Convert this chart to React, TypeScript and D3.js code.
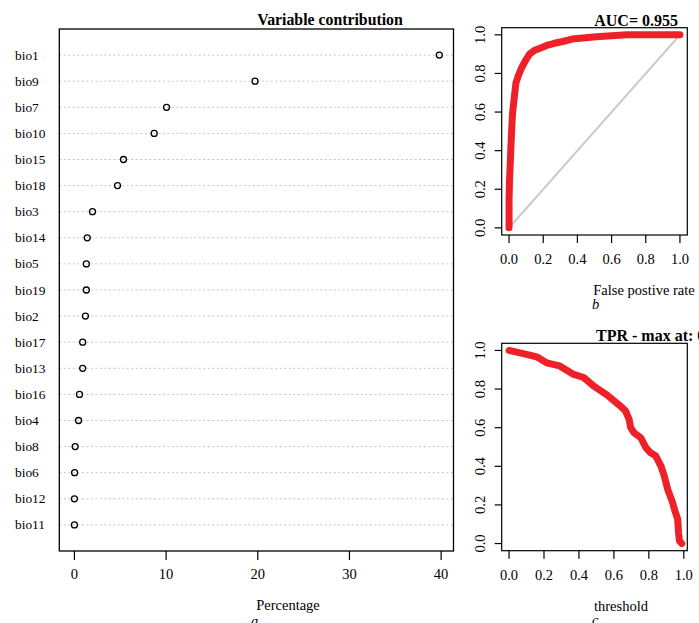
import React from "react"
import * as d3 from "d3"

// variable contribution (percent)
const vars = ["bio1", "bio9", "bio7", "bio10", "bio15", "bio18", "bio3", "bio14", "bio5", "bio19", "bio2", "bio17", "bio13", "bio16", "bio4", "bio8", "bio6", "bio12", "bio11"]
const contrib = [39.8, 19.7, 10.05, 8.7, 5.35, 4.7, 1.97, 1.4, 1.3, 1.3, 1.2, 0.9, 0.9, 0.55, 0.45, 0.08, 0.02, 0.0, 0.0]
const contribTicks = [0, 10, 20, 30, 40]

// ROC curve
const rocFpr = [0, 0, 0.003, 0.007, 0.01, 0.015, 0.02, 0.03, 0.04, 0.055, 0.074, 0.095, 0.12, 0.15, 0.18, 0.22, 0.26, 0.32, 0.38, 0.45, 0.51, 0.6, 0.69, 0.8, 0.9, 1.0]
const rocTpr = [0, 0.15, 0.25, 0.33, 0.4, 0.5, 0.59, 0.67, 0.75, 0.79, 0.83, 0.865, 0.9, 0.92, 0.93, 0.945, 0.955, 0.967, 0.98, 0.985, 0.99, 0.995, 1.0, 1.0, 1.0, 1.0]

// TPR by threshold
const thr = [0, 0.05, 0.1, 0.158, 0.215, 0.29, 0.37, 0.427, 0.485, 0.56, 0.64, 0.667, 0.687, 0.696, 0.715, 0.754, 0.783, 0.81, 0.84, 0.87, 0.888, 0.908, 0.936, 0.946, 0.965, 0.97, 0.975, 0.988]
const thrTpr = [1.0, 0.99, 0.98, 0.967, 0.936, 0.92, 0.876, 0.86, 0.815, 0.77, 0.71, 0.686, 0.643, 0.6, 0.574, 0.548, 0.497, 0.47, 0.453, 0.4, 0.35, 0.28, 0.212, 0.178, 0.126, 0.057, 0.014, 0]

const unitTicks = [0, 0.2, 0.4, 0.6, 0.8, 1.0]

const FONT = "'Liberation Serif', 'Times New Roman', serif"
const RED = "#ee2128"
const AX = 14.5

const SmallPanel = ({ top, bottom, xDomain, xs, ys, title, titleX, titleAnchor, xlab, xlabX, tag, tagX, diag }) => {
  const left = 501.7
  const right = 687.3
  const x = d3.scaleLinear().domain(xDomain).range([left, right])
  const y = d3.scaleLinear().domain([-0.037, 1.037]).range([bottom, top])
  const line = d3.line().x((d) => x(d[0])).y((d) => y(d[1]))
  const pts = xs.map((v, i) => [v, ys[i]])
  return (
    <g fontFamily={FONT}>
      {diag && <line x1={x(0)} y1={y(0)} x2={x(1)} y2={y(1)} stroke="#c8c8c8" strokeWidth={2} />}
      <path d={line(pts)} fill="none" stroke={RED} strokeWidth={7} strokeLinejoin="round" strokeLinecap="round" />
      <rect x={left} y={top} width={right - left} height={bottom - top} fill="none" stroke="#000" strokeWidth={1.2} />
      {unitTicks.map((t) => (
        <g key={"x" + t}>
          <line x1={x(t)} x2={x(t)} y1={bottom} y2={bottom + 8} stroke="#000" strokeWidth={1.2} />
          <text x={x(t)} y={bottom + 29} fontSize={AX} textAnchor="middle">{t.toFixed(1)}</text>
        </g>
      ))}
      {unitTicks.map((t) => (
        <g key={"y" + t}>
          <line x1={left} x2={left - 7} y1={y(t)} y2={y(t)} stroke="#000" strokeWidth={1.2} />
          <text transform={`translate(484.5,${y(t)}) rotate(-90)`} fontSize={AX} textAnchor="middle">{t.toFixed(1)}</text>
        </g>
      ))}
      <text x={titleX} y={top - 2} fontSize={16} fontWeight="bold" textAnchor={titleAnchor}>{title}</text>
      <text x={xlabX} y={bottom + 60} fontSize={AX} textAnchor="middle">{xlab}</text>
      <text x={tagX} y={bottom + 74} fontSize={AX} fontStyle="italic">{tag}</text>
    </g>
  )
}

const App = () => {
  const W = 699
  const H = 623
  const left = 59.3
  const right = 453.5
  const top = 29
  const bottom = 551
  const x = d3.scaleLinear().domain([-1.65, 41.35]).range([left, right])
  const y = d3.scalePoint().domain(vars).range([top, bottom]).padding(1)

  return (
    <svg width={W} height={H} style={{ position: "absolute", left: 0, top: 0, background: "#fff" }}>
      <g fontFamily={FONT}>
        {vars.map((v, i) => (
          <g key={v}>
            <line x1={left} x2={right} y1={y(v)} y2={y(v)} stroke="#c4c4c4" strokeDasharray="2,2.5" strokeWidth={1} />
            <text x={15} y={y(v) + 4.5} fontSize={13.4}>{v}</text>
            <circle cx={x(contrib[i])} cy={y(v)} r={3} fill="none" stroke="#000" strokeWidth={1.3} />
          </g>
        ))}
        <rect x={left} y={top} width={right - left} height={bottom - top} fill="none" stroke="#000" strokeWidth={1.3} />
        {contribTicks.map((t) => (
          <g key={t}>
            <line x1={x(t)} x2={x(t)} y1={bottom} y2={bottom + 9} stroke="#000" strokeWidth={1.2} />
            <text x={x(t)} y={579} fontSize={AX} textAnchor="middle">{t}</text>
          </g>
        ))}
        <text x={330} y={25} fontSize={15.8} fontWeight="bold" textAnchor="middle">Variable contribution</text>
        <text x={288} y={610} fontSize={AX} textAnchor="middle">Percentage</text>
        <text x={251} y={626} fontSize={AX} fontStyle="italic">a</text>
      </g>
      <SmallPanel top={27.7} bottom={235} xDomain={[-0.043, 1.043]} xs={rocFpr} ys={rocTpr}
        title="AUC= 0.955" titleX={678} titleAnchor="end" xlab="False postive rate" xlabX={644} tag="b" tagX={592} diag />
      <SmallPanel top={343.3} bottom={550.7} xDomain={[-0.042, 1.02]} xs={thr} ys={thrTpr}
        title="TPR - max at: 0.01" titleX={596} titleAnchor="start" xlab="threshold" xlabX={621} tag="c" tagX={592} diag={false} />
    </svg>
  )
}

export default App
